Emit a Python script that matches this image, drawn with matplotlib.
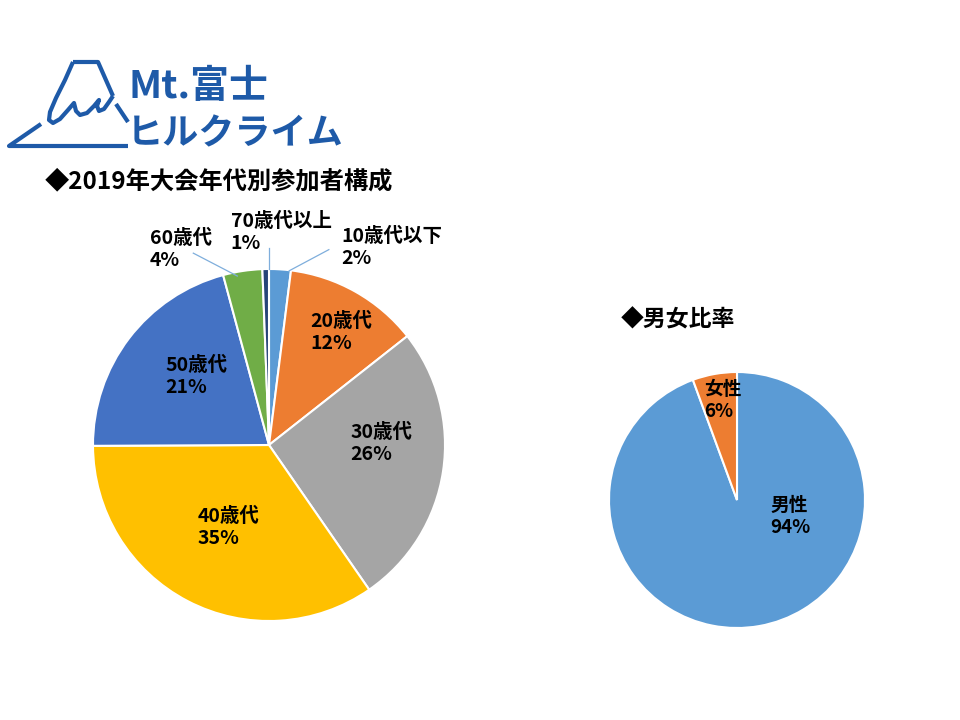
import matplotlib
matplotlib.use("Agg")
import matplotlib.pyplot as plt

plt.rcParams['font.family'] = ['Noto Sans CJK JP', 'DejaVu Sans']

# age groups (clockwise from 12 o'clock)
age_labels = ["10歳代以下", "20歳代", "30歳代", "40歳代", "50歳代", "60歳代", "70歳代以上"]
age_share = [2.0, 12.4, 26.0, 34.6, 20.9, 3.6, 0.6]
age_colors = ["#5B9BD5", "#ED7D31", "#A5A5A5", "#FFC000", "#4472C4", "#70AD47", "#264478"]

# gender
sex_labels = ["男性", "女性"]
sex_share = [94.4, 5.6]
sex_colors = ["#5B9BD5", "#ED7D31"]

title_age = "◆2019年大会年代別参加者構成"
title_sex = "◆男女比率"
logo_top = "Mt.富士"
logo_bottom = "ヒルクライム"
logo_col = "#1E5AA8"

W, H = 960, 720
fig = plt.figure(figsize=(9.6, 7.2), dpi=100)
fig.patch.set_facecolor("white")


def px_axes(cx, cy, r):
    # square axes around a pie centre given in pixels (y down)
    return fig.add_axes([(cx - r) / W, (H - cy - r) / H, 2 * r / W, 2 * r / H])


# ---- logo (drawn in pixel coords) ----
lax = fig.add_axes([0, 0, 1, 1])
lax.set_xlim(0, W)
lax.set_ylim(H, 0)
lax.axis("off")
kw = dict(color=logo_col, lw=3.0, solid_capstyle="butt", solid_joinstyle="round")
# left slope + snow edge
lax.plot([73, 65, 56, 50, 49, 53, 60, 68, 74, 76, 80, 87, 94, 99, 97, 99, 104, 109, 113],
         [62, 80, 98, 112, 120, 123, 119, 110, 103, 111, 115, 113, 106, 100, 106, 111, 109, 102, 96], **kw)
lax.plot([73, 98, 113], [62, 62, 96], **kw)
lax.plot([116, 128], [104, 122], **kw)
lax.plot([41, 9, 128], [124, 146, 146], **kw)
lax.text(129, 98, logo_top, color=logo_col, fontsize=28, fontweight="bold", va="baseline")
lax.text(127, 144, logo_bottom, color=logo_col, fontsize=26, fontweight="bold", va="baseline")

# ---- titles ----
fig.text(45 / W, 1 - 181 / H, title_age, fontsize=17.5, fontweight="bold", va="center")
fig.text(621 / W, 1 - 320 / H, title_sex, fontsize=16.5, fontweight="bold", va="center")

# ---- age pie ----
ax1 = px_axes(269, 445, 176)
ax1.pie(age_share, colors=age_colors, startangle=90, counterclock=False,
        wedgeprops=dict(edgecolor="white", linewidth=1.5))
ax1.set_xlim(-1, 1)
ax1.set_ylim(-1, 1)
ax1.set_aspect("equal")

tot = sum(age_share)
# label block centres (pie units) and leader line ends for small slices
age_pos = [(0.70, 1.12), (0.41, 0.64), (0.64, 0.01), (-0.23, -0.47), (-0.41, 0.39), (-0.5, 1.11), (0.07, 1.21)]
leader = {0: ((0.115, 0.99), (0.34, 1.11)), 5: ((-0.18, 0.96), (-0.43, 1.09)), 6: ((0.0, 1.0), (0.0, 1.12))}
for i, (lab, v) in enumerate(zip(age_labels, age_share)):
    x, y = age_pos[i]
    ax1.text(x, y, f"{lab}\n{v / tot * 100:.0f}%", ha="center", va="center",
             multialignment="left", fontsize=14, fontweight="bold", linespacing=1.2)
    if i in leader:
        (x0, y0), (x1, y1) = leader[i]
        ax1.plot([x0, x1], [y0, y1], color="#7FAEDC", lw=0.9, clip_on=False)

# ---- gender pie ----
ax2 = px_axes(737, 500, 128)
ax2.pie(sex_share, colors=sex_colors, startangle=90, counterclock=False,
        wedgeprops=dict(edgecolor="white", linewidth=1.5))
ax2.set_xlim(-1, 1)
ax2.set_ylim(-1, 1)
ax2.set_aspect("equal")

stot = sum(sex_share)
sex_pos = [(0.42, -0.13), (-0.11, 0.78)]
for i, (lab, v) in enumerate(zip(sex_labels, sex_share)):
    x, y = sex_pos[i]
    ax2.text(x, y, f"{lab}\n{v / stot * 100:.0f}%", ha="center", va="center",
             multialignment="left", fontsize=13.5, fontweight="bold", linespacing=1.2)

fig.savefig("out.png", dpi=100, facecolor="white")
